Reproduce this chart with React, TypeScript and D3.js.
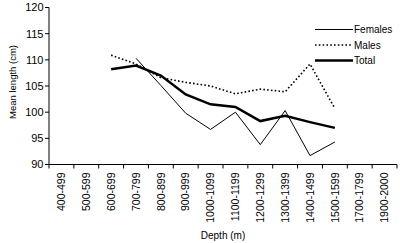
import React from "react";
import * as d3 from "d3";

const categories = ["400-499","500-599","600-699","700-799","800-899","900-999","1000-1099","1100-1199","1200-1299","1300-1399","1400-1499","1500-1599","1700-1799","1900-2000"];
const females: (number | null)[] = [null, null, null, 110.3, 105.1, 99.8, 96.7, 100.0, 93.8, 100.3, 91.7, 94.3, null, null];
const males: (number | null)[] = [null, null, 110.9, 109.2, 106.6, 105.7, 105.0, 103.5, 104.4, 103.9, 109.2, 100.7, null, null];
const total: (number | null)[] = [null, null, 108.2, 108.9, 107.0, 103.4, 101.5, 101.0, 98.3, 99.3, 98.1, 97.0, null, null];
const yTicks = [90, 95, 100, 105, 110, 115, 120];

const series = [
  { name: "Females", values: females, width: 1, dash: "" },
  { name: "Males", values: males, width: 1.6, dash: "1.6,2.2" },
  { name: "Total", values: total, width: 2.5, dash: "" },
];

export default function App() {
  const W = 400, H = 243;
  const left = 49, right = 397, top = 7.5, bottom = 164.5;
  const x = d3.scaleBand<string>().domain(categories).range([left, right]).padding(0);
  const y = d3.scaleLinear().domain([90, 120]).range([bottom, top]);
  const font = "Arial, 'Liberation Sans', sans-serif";
  const line = d3
    .line<number | null>()
    .defined((d) => d != null)
    .x((_, i) => (x(categories[i]) as number) + x.bandwidth() / 2)
    .y((d) => y(d as number));

  return (
    <svg width={W} height={H} style={{ position: "absolute", left: 0, top: 0 }} fontFamily={font}>
      <rect width={W} height={H} fill="#fff" />
      {/* y axis */}
      <line x1={left} x2={left} y1={top} y2={bottom} stroke="#000" strokeWidth={1} />
      {yTicks.map((t) => (
        <g key={t}>
          <line x1={left - 4} x2={left} y1={y(t)} y2={y(t)} stroke="#000" />
          <text x={left - 5.5} y={y(t)} dy="0.35em" textAnchor="end" fontSize={11} fill="#000">{t}</text>
        </g>
      ))}
      <text transform={`translate(13,${(top + bottom) / 2 - 4}) rotate(-90)`} textAnchor="middle" dy="0.35em" fontSize={9.5} fill="#000">Mean length (cm)</text>
      {/* x axis */}
      <line x1={left} x2={right} y1={bottom} y2={bottom} stroke="#000" strokeWidth={1} />
      {[...categories.map((c) => x(c) as number), right].map((px, i) => (
        <line key={i} x1={px} x2={px} y1={bottom} y2={bottom + 4} stroke="#000" />
      ))}
      {categories.map((c) => (
        <text key={c} transform={`translate(${(x(c) as number) + x.bandwidth() / 2},172.5) rotate(-90)`} textAnchor="end" dy="0.35em" fontSize={10.5} fill="#000">{c}</text>
      ))}
      <text x={(left + right) / 2} y={239} textAnchor="middle" fontSize={10} fill="#000">Depth (m)</text>
      {/* series */}
      {series.map((s) => (
        <path key={s.name} d={line(s.values) || ""} fill="none" stroke="#000" strokeWidth={s.width} strokeDasharray={s.dash || undefined} />
      ))}
      {/* legend */}
      {series.map((s, i) => (
        <g key={s.name} transform={`translate(315,${29.5 + i * 15.5})`}>
          <line x1={0} x2={38} y1={0} y2={0} stroke="#000" strokeWidth={s.width} strokeDasharray={s.dash || undefined} />
          <text x={39} y={0} dy="0.35em" fontSize={10} fill="#000">{s.name}</text>
        </g>
      ))}
    </svg>
  );
}
